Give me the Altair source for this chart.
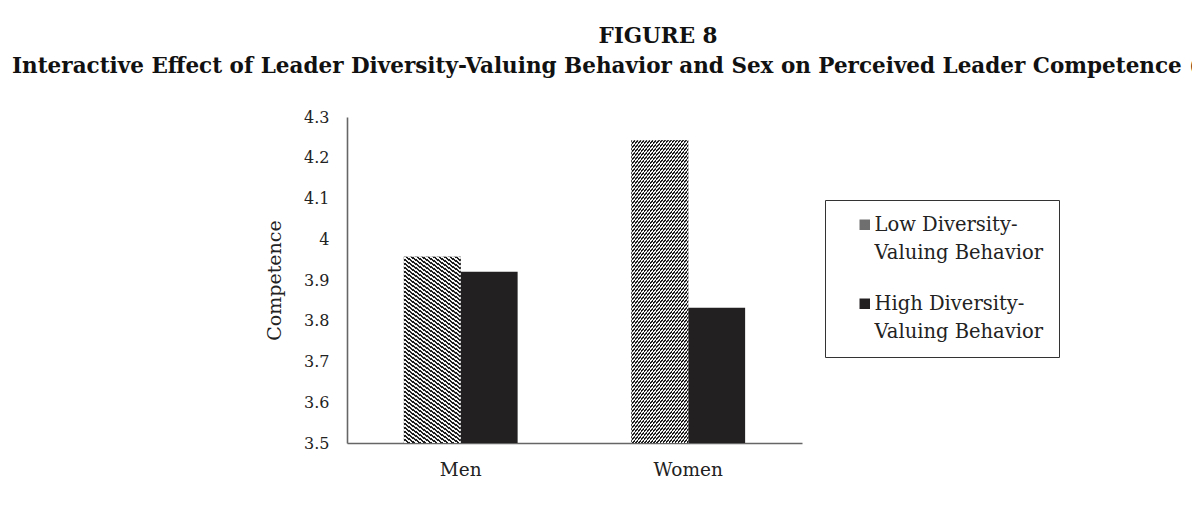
import math
import altair as alt
import pandas as pd

# ---- data ----
sexes = ["Men", "Women"]
levels = ["Low Diversity-Valuing Behavior", "High Diversity-Valuing Behavior"]
low_values = [3.957, 4.243]
high_values = [3.920, 3.832]
y_ticks = [3.5, 3.6, 3.7, 3.8, 3.9, 4.0, 4.1, 4.2, 4.3]

title_text = "FIGURE 8"
subtitle_text = ("Interactive Effect of Leader Diversity-Valuing Behavior and Sex "
                 "on Perceived Leader Competence (")

rows = []
for s, lo, hi in zip(sexes, low_values, high_values):
    rows.append({"sex": s, "level": levels[0], "value": lo})
    rows.append({"sex": s, "level": levels[1], "value": hi})
df = pd.DataFrame(rows)

# ---- layout ----
W, H = 455, 326
Y_MIN, Y_MAX = 3.5, 4.3
SERIF = "DejaVu Serif"
DARK = "#232021"
HATCH_DARK = "#1f1f1f"
HATCH_LIGHT = "#f4f4f4"


def hatch(size, period=4, dark_frac=0.5):
    """Diagonal '/' hatching as a hard-stop linear gradient.

    Vega maps gradients onto a square of side max(w, h) covering the mark,
    so a diagonal vector gives 45-degree stripes.  The vector length is chosen
    so that one stripe period is exactly `period` pixels horizontally.
    """
    n = int(math.ceil(2 * size / period))
    f = (n * period) / (2 * size)
    stops = []
    for i in range(n):
        a, b, c = i / n, (i + dark_frac) / n, (i + 1) / n
        stops += [
            alt.GradientStop(offset=a, color=HATCH_DARK),
            alt.GradientStop(offset=b, color=HATCH_DARK),
            alt.GradientStop(offset=b, color=HATCH_LIGHT),
            alt.GradientStop(offset=c, color=HATCH_LIGHT),
        ]
    return alt.LinearGradient(gradient="linear", stops=stops,
                              x1=0, y1=0, x2=f, y2=f)


bar_w = W / 2 * 0.5 / 2
px_per_unit = H / (Y_MAX - Y_MIN)

x_enc = alt.X("sex:N", sort=sexes, title=None,
              scale=alt.Scale(paddingInner=0.5, paddingOuter=0.25),
              axis=alt.Axis(labelAngle=0, labelFont=SERIF, labelFontSize=18.5,
                            labelColor="#222", labelPadding=17, ticks=False,
                            domainColor="#666666", domainWidth=1.6, grid=False))
xo_enc = alt.XOffset("level:N", sort=levels,
                     scale=alt.Scale(paddingInner=0, paddingOuter=0))
y_enc = alt.Y("value:Q", title="Competence",
              scale=alt.Scale(domain=[Y_MIN, Y_MAX], zero=False, nice=False),
              axis=alt.Axis(values=y_ticks, format=".1~f", labelFont=SERIF,
                            labelFontSize=16, labelColor="#222", labelPadding=18,
                            ticks=False, grid=False, domainColor="#666666",
                            domainWidth=1.6, titleFont=SERIF, titleFontSize=19,
                            titleFontWeight="normal", titleColor="#222",
                            titleX=-73, titleY=H / 2, titleAngle=-90,
                            titleAlign="center", titleBaseline="middle"))

legend = alt.Legend(
    title=None, orient="none", legendX=478, legendY=83, direction="vertical",
    symbolType="square", symbolSize=110, symbolStrokeWidth=0,
    labelFont=SERIF, labelFontSize=19.5, labelColor="#222", labelLimit=400,
    labelBaseline="middle", labelOffset=0,
    labelExpr=("[slice(datum.label, 0, indexof(datum.label, '-') + 1), "
               "slice(datum.label, indexof(datum.label, '-') + 1)]"),
    strokeColor="#333", padding=15, symbolOffset=15, rowPadding=30,
)

base = alt.Chart(df).mark_bar().encode(
    x=x_enc, xOffset=xo_enc, y=y_enc, y2=alt.datum(Y_MIN),
    fill=alt.Fill("level:N", sort=levels,
                  scale=alt.Scale(domain=levels, range=["#6f6f6f", DARK]),
                  legend=legend),
)

overlays = []
for s, lo in zip(sexes, low_values):
    bar_h = (lo - Y_MIN) * px_per_unit
    g = hatch(max(bar_w, bar_h))
    overlays.append(
        alt.Chart(df).transform_filter(
            (alt.datum.sex == s) & (alt.datum.level == levels[0])
        ).mark_bar(fill=g).encode(x=alt.X("sex:N", sort=sexes),
                                  xOffset=alt.XOffset("level:N", sort=levels),
                                  y=alt.Y("value:Q"), y2=alt.datum(Y_MIN))
    )

one = pd.DataFrame({"k": [0]})
title_mark = alt.Chart(one).mark_text(
    text=title_text, font=SERIF, fontSize=21.5, fontWeight="bold",
    color="#111", align="center", baseline="alphabetic"
).encode(x=alt.value(311), y=alt.value(-74))
subtitle_mark = alt.Chart(one).mark_text(
    text=subtitle_text, font=SERIF, fontSize=21.5, fontWeight="bold",
    color="#111", align="left", baseline="alphabetic"
).encode(x=alt.value(-335), y=alt.value(-44))

chart = alt.layer(base, *overlays, title_mark, subtitle_mark).properties(
    width=W, height=H,
    autosize=alt.AutoSizeParams(type="none"),
    padding={"left": 339, "top": 109, "right": 390, "bottom": 50},
    background="white",
).configure(
    view={"stroke": None},
    style={"guide-label": {"lineHeight": 28}},
)

chart.save("out.html", embed_options={"renderer": "svg", "actions": False})
